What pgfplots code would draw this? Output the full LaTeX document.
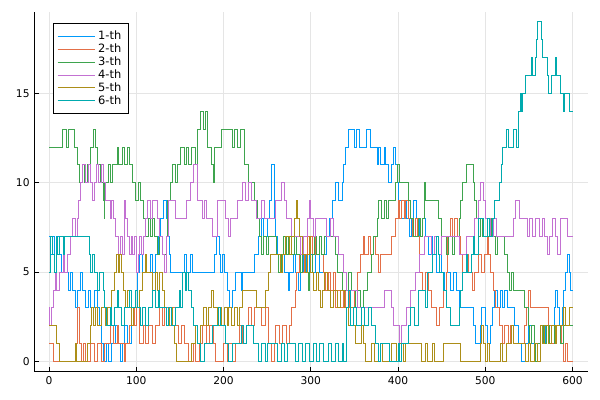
\documentclass[border=0pt]{standalone}
\usepackage{pgfplots}
\pgfplotsset{compat=1.18}
\usepackage{fontspec}
\setmainfont{DejaVu Sans}
\definecolor{c1}{HTML}{009AFA}
\definecolor{c2}{HTML}{E36F47}
\definecolor{c3}{HTML}{3EA44E}
\definecolor{c4}{HTML}{C371D2}
\definecolor{c5}{HTML}{AC8E18}
\definecolor{c6}{HTML}{00AAAE}
\begin{document}
\begin{tikzpicture}
\begin{axis}[
  at={(0,0)}, anchor=south west,
  scale only axis, width=415.5pt, height=270pt,
  xmin=-17, xmax=618, ymin=-0.57, ymax=19.57,
  axis lines=left, axis line style={-, line width=0.75pt},
  xtick={0,100,200,300,400,500,600},
  ytick={0,5,10,15},
  tick align=inside, major tick length=3.5pt,
  tick style={black, line width=0.6pt},
  grid=major, major grid style={black!10, line width=0.5pt},
  /pgf/number format/assume math mode=true,
  ticklabel style={font=\fontsize{8}{9.6}\selectfont},
  every axis plot/.append style={line width=0.75pt, const plot},
  legend style={at={(0.0332,0.9678)}, anchor=north west, draw=black, line width=0.75pt,
    font=\fontsize{8.6}{10}\selectfont, row sep=-2.4pt,
    inner xsep=3pt, inner ysep=3.5pt},
  legend cell align=left,
  legend image code/.code={\draw[#1, line width=0.75pt] (0pt,0pt) -- (28pt,0pt);},
]
\addplot[c1] coordinates {(0,7)(2,6)(4,7)(6,5)(8,6)(10,7)(12,6)(14,5)(16,6)(18,5)(22,4)(25,5)(27,4)(30,3)(33,4)(36,5)(38,4)(42,3)(45,4)(48,3)(52,4)(56,3)(58,2)(60,1)(62,0)(66,1)(68,0)(72,1)(76,2)(78,1)(82,0)(84,1)(86,2)(90,1)(94,2)(97,3)(99,4)(101,5)(104,6)(107,5)(110,6)(112,5)(116,6)(119,5)(122,6)(125,7)(128,8)(131,9)(135,8)(137,7)(138,6)(139,5)(155,6)(158,5)(162,6)(164,5)(190,6)(192,7)(195,6)(197,5)(199,6)(201,5)(204,4)(207,3)(210,4)(214,5)(220,4)(222,5)(236,6)(240,7)(244,8)(246,7)(250,8)(253,9)(255,11)(258,8)(260,7)(262,6)(265,5)(268,6)(270,5)(274,4)(276,5)(280,6)(282,5)(286,4)(288,5)(292,6)(295,5)(298,6)(302,5)(305,6)(310,5)(314,6)(318,7)(321,8)(325,9)(328,10)(332,9)(336,10)(338,11)(340,12)(343,13)(350,12)(352,13)(356,12)(364,13)(368,12)(376,11)(378,12)(380,11)(384,12)(386,11)(389,10)(392,11)(395,12)(397,11)(399,10)(401,9)(404,8)(407,9)(410,8)(413,7)(415,8)(418,9)(421,8)(424,7)(428,8)(431,7)(435,6)(438,7)(440,6)(444,5)(448,6)(450,5)(453,4)(456,5)(460,4)(464,5)(467,4)(470,3)(486,2)(489,1)(494,2)(496,3)(500,2)(502,1)(506,2)(508,3)(510,4)(514,3)(517,4)(520,3)(522,4)(525,3)(534,2)(538,1)(541,0)(546,1)(549,2)(553,1)(556,0)(560,1)(563,2)(566,1)(569,2)(572,1)(576,2)(579,3)(581,4)(583,3)(585,2)(588,3)(590,4)(592,5)(594,6)(596,5)(598,4)(600,4)};
\addlegendentry{1-th}
\addplot[c2] coordinates {(0,1)(5,0)(30,1)(32,2)(33,3)(35,1)(37,0)(40,1)(42,0)(48,1)(52,0)(56,1)(60,0)(64,1)(70,2)(74,1)(78,2)(80,1)(86,0)(88,1)(92,2)(94,3)(98,2)(100,3)(104,1)(108,2)(110,1)(114,2)(118,1)(122,2)(126,3)(130,2)(132,3)(138,2)(140,3)(145,2)(148,1)(152,2)(155,1)(160,0)(166,1)(168,0)(172,1)(176,2)(180,1)(184,2)(188,1)(191,0)(200,1)(204,0)(206,1)(210,0)(214,1)(218,2)(222,1)(226,2)(228,3)(232,2)(236,3)(244,2)(248,3)(252,1)(255,0)(258,1)(260,2)(264,1)(268,2)(272,1)(276,2)(278,3)(282,4)(284,5)(287,6)(290,5)(293,6)(296,7)(298,6)(300,7)(302,6)(305,7)(307,6)(310,7)(312,6)(314,5)(317,4)(320,5)(322,4)(326,5)(328,3)(331,4)(334,3)(338,4)(340,3)(344,4)(346,3)(350,4)(353,5)(357,6)(360,7)(362,6)(366,7)(368,6)(372,7)(374,6)(377,5)(380,6)(392,7)(397,8)(400,9)(402,8)(404,9)(407,8)(409,9)(412,8)(416,7)(420,8)(422,7)(424,5)(428,4)(431,5)(435,4)(438,3)(444,2)(447,3)(452,4)(455,5)(457,7)(460,8)(462,7)(465,8)(468,7)(471,6)(474,5)(478,6)(481,5)(485,4)(488,5)(492,6)(496,5)(499,6)(502,7)(504,6)(506,5)(509,4)(512,3)(516,2)(520,1)(522,2)(526,1)(529,2)(532,1)(545,2)(547,3)(549,4)(552,3)(572,2)(576,1)(580,2)(587,1)(590,0)(592,1)(594,0)(600,0)};
\addlegendentry{2-th}
\addplot[c3] coordinates {(0,12)(15,13)(20,12)(22,13)(29,12)(33,11)(35,10)(38,11)(41,10)(44,11)(48,12)(51,13)(53,12)(55,11)(59,10)(62,9)(63,8)(64,10)(68,11)(70,10)(73,11)(78,12)(80,11)(84,12)(86,11)(90,12)(92,11)(96,10)(99,9)(103,10)(105,9)(108,8)(111,7)(114,8)(116,7)(119,8)(121,7)(124,6)(127,7)(130,6)(134,7)(136,9)(139,10)(141,11)(145,10)(147,11)(151,12)(155,11)(158,12)(160,11)(163,12)(168,11)(170,13)(173,14)(177,13)(179,14)(182,12)(186,11)(188,10)(190,12)(198,13)(210,12)(213,13)(216,12)(219,13)(224,11)(228,10)(236,9)(239,8)(241,7)(244,6)(246,7)(249,6)(252,7)(261,6)(263,5)(266,6)(269,7)(272,6)(274,7)(278,6)(281,7)(284,6)(288,5)(291,6)(294,5)(297,4)(299,5)(302,6)(304,7)(306,6)(310,7)(312,6)(316,7)(328,6)(331,5)(336,4)(343,5)(347,4)(351,3)(354,4)(357,3)(360,4)(365,5)(369,6)(372,7)(376,8)(378,9)(381,8)(384,9)(387,8)(389,9)(397,10)(399,11)(402,10)(412,9)(414,8)(418,7)(423,8)(426,7)(428,8)(430,10)(432,9)(446,8)(450,7)(455,6)(458,7)(462,6)(465,7)(470,8)(472,9)(474,10)(478,11)(486,10)(488,9)(490,8)(492,7)(494,8)(497,7)(505,8)(507,7)(512,6)(514,7)(522,6)(525,5)(528,4)(530,5)(532,4)(545,3)(549,2)(551,1)(553,2)(556,1)(558,0)(560,1)(563,2)(567,1)(570,2)(573,1)(576,2)(579,1)(582,2)(586,1)(590,2)(600,2)};
\addlegendentry{3-th}
\addplot[c4] coordinates {(0,3)(1,2)(3,3)(5,4)(7,5)(9,4)(12,5)(16,6)(18,5)(21,6)(24,7)(27,8)(30,7)(32,8)(34,9)(36,10)(38,11)(42,10)(45,11)(48,10)(50,9)(52,10)(54,11)(57,10)(60,11)(62,10)(65,9)(70,8)(72,9)(74,8)(76,7)(79,6)(82,7)(84,6)(86,9)(88,8)(90,7)(92,6)(94,7)(96,6)(98,7)(100,5)(102,6)(104,7)(106,6)(108,7)(111,8)(113,9)(116,8)(118,9)(124,8)(126,7)(130,6)(132,5)(134,7)(137,9)(145,8)(157,9)(162,10)(166,11)(170,9)(176,8)(178,9)(180,8)(187,7)(193,9)(202,8)(206,7)(208,8)(216,9)(222,10)(225,9)(228,10)(232,9)(238,8)(244,9)(247,8)(259,9)(266,10)(270,9)(272,8)(278,7)(288,6)(292,7)(296,8)(298,9)(300,8)(303,7)(305,8)(318,7)(322,8)(326,7)(332,6)(337,5)(341,4)(354,3)(358,2)(361,3)(385,4)(393,3)(395,2)(402,1)(404,2)(410,3)(414,4)(420,5)(425,6)(430,7)(438,6)(442,7)(446,6)(450,7)(470,6)(478,7)(488,8)(492,9)(494,10)(498,9)(500,8)(506,7)(509,8)(513,7)(532,8)(535,9)(539,8)(548,7)(551,8)(554,7)(557,8)(562,7)(565,8)(568,7)(571,6)(574,7)(577,8)(580,7)(583,6)(586,8)(594,7)(600,7)};
\addlegendentry{4-th}
\addplot[c5] coordinates {(0,2)(9,1)(12,0)(30,1)(31,0)(44,1)(47,2)(49,3)(51,2)(53,3)(55,2)(60,3)(65,2)(67,3)(72,4)(75,5)(77,6)(79,5)(81,6)(83,5)(85,4)(87,3)(90,4)(92,3)(94,2)(97,3)(104,4)(107,5)(110,6)(112,5)(118,4)(122,5)(124,4)(127,5)(130,4)(132,3)(135,2)(138,3)(141,2)(144,1)(146,0)(163,1)(168,2)(170,1)(174,2)(177,3)(180,2)(183,3)(186,4)(189,3)(193,2)(196,3)(198,2)(201,3)(204,2)(206,3)(209,2)(212,3)(216,2)(218,3)(222,4)(238,3)(248,4)(252,5)(254,6)(265,5)(268,6)(271,7)(275,6)(278,7)(281,8)(283,9)(285,8)(287,7)(290,6)(294,5)(296,6)(298,7)(300,5)(303,4)(306,5)(309,4)(311,3)(313,4)(316,5)(319,4)(322,3)(326,4)(330,3)(334,4)(339,3)(343,2)(346,3)(349,2)(351,1)(358,2)(360,1)(363,0)(369,1)(373,0)(380,1)(382,0)(393,1)(398,0)(402,1)(406,0)(408,1)(427,0)(432,1)(434,0)(440,1)(442,0)(452,1)(472,0)(494,1)(496,2)(498,1)(500,0)(503,1)(505,0)(517,1)(520,0)(524,1)(530,2)(532,1)(546,0)(549,1)(552,0)(556,1)(560,0)(563,2)(566,1)(568,2)(572,1)(576,2)(580,1)(582,2)(590,3)(592,2)(596,3)(600,3)};
\addlegendentry{5-th}
\addplot[c6] coordinates {(0,5)(2,7)(4,6)(6,5)(8,7)(10,6)(12,7)(16,6)(18,7)(46,6)(48,5)(50,6)(52,5)(56,4)(58,5)(62,4)(64,3)(66,2)(70,3)(72,2)(75,3)(78,4)(80,3)(83,2)(86,3)(92,4)(95,3)(99,4)(101,3)(105,2)(107,3)(111,2)(114,3)(118,4)(122,3)(125,4)(127,3)(134,2)(137,3)(140,2)(145,3)(149,4)(151,3)(153,5)(156,4)(158,5)(160,4)(163,3)(166,2)(170,1)(173,0)(178,1)(187,2)(194,3)(197,2)(202,1)(206,0)(210,1)(220,2)(223,1)(226,2)(234,1)(240,0)(244,1)(248,0)(250,1)(262,0)(266,1)(270,0)(273,1)(282,0)(286,1)(290,0)(294,1)(298,0)(303,1)(306,0)(310,1)(314,0)(320,1)(324,0)(328,1)(332,0)(336,1)(338,0)(341,3)(343,4)(345,2)(349,3)(352,2)(358,3)(362,2)(366,3)(370,2)(374,1)(377,0)(380,1)(390,0)(400,1)(402,0)(404,1)(412,2)(414,3)(419,2)(423,4)(431,3)(434,5)(440,6)(444,7)(446,6)(448,5)(452,4)(456,3)(460,2)(470,3)(472,4)(474,5)(478,6)(480,5)(484,6)(486,7)(488,6)(492,8)(498,7)(503,8)(505,7)(508,8)(511,9)(516,10)(518,11)(520,12)(524,13)(526,12)(532,13)(536,12)(538,14)(540,15)(542,14)(543,15)(546,16)(553,17)(554,16)(557,17)(559,18)(560,19)(564,18)(566,17)(571,16)(572,15)(576,16)(580,17)(582,16)(586,15)(590,14)(591,15)(596,14)(600,14)};
\addlegendentry{6-th}
\end{axis}
\pgfresetboundingbox
\path (-25.7pt,-21.2pt) rectangle (424.3pt,278.8pt);
\end{tikzpicture}
\end{document}
